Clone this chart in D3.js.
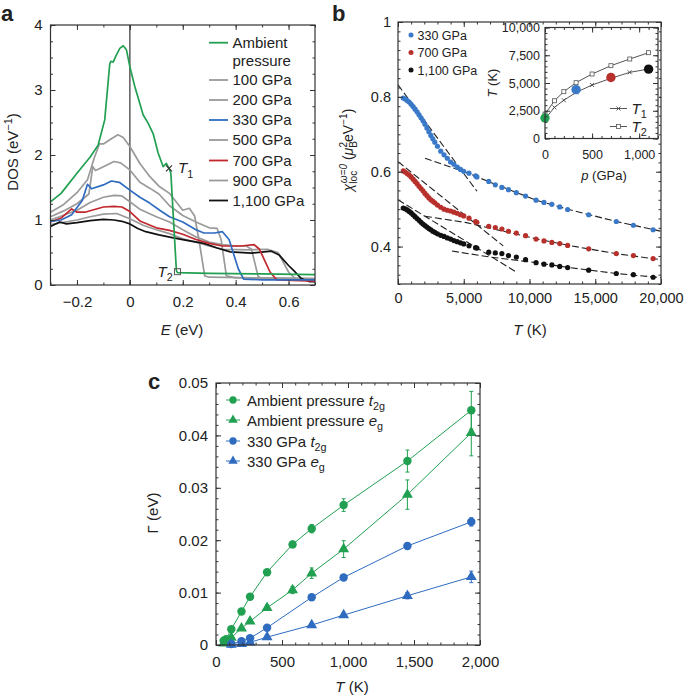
<!DOCTYPE html>
<html>
<head>
<meta charset="utf-8">
<script src="https://cdn.jsdelivr.net/npm/d3@7"></script>
<style>
  body { margin: 0; background: #fff; }
  text { font-family: "Liberation Sans", Arial, Helvetica, sans-serif; fill: #222; }
</style>
</head>
<body>
<svg id="fig" width="685" height="695"></svg>
<script>
// ---------- panel a : DOS curves, [E (eV), DOS] ----------
var dosAmbient = [[-0.3,1.28],[-0.26,1.41],[-0.2,1.72],[-0.15,1.97],[-0.12,2.15],[-0.095,2.54],[-0.076,3.40],[-0.072,3.44],[-0.063,3.43],[-0.053,3.52],[-0.038,3.64],[-0.025,3.68],[-0.013,3.62],[0,3.36],[0.019,3.05],[0.038,2.79],[0.05,2.62],[0.069,2.49],[0.088,2.33],[0.107,2.03],[0.126,1.82],[0.138,1.87],[0.15,1.78],[0.155,1.72],[0.176,0.22],[0.18,0.19],[0.3,0.18],[0.5,0.17],[0.7,0.16]];
var dos100 = [[-0.3,1.12],[-0.25,1.24],[-0.2,1.42],[-0.16,1.62],[-0.135,1.95],[-0.115,2.17],[-0.1,2.17],[-0.07,2.25],[-0.045,2.31],[-0.025,2.27],[0,2.13],[0.038,1.87],[0.075,1.67],[0.11,1.52],[0.15,1.41],[0.2,1.15],[0.225,1.18],[0.245,1.06],[0.265,0.6],[0.283,0.14],[0.3,0.12],[0.5,0.11],[0.7,0.10]];
var dos200 = [[-0.3,1.05],[-0.25,1.14],[-0.2,1.25],[-0.155,1.40],[-0.14,1.82],[-0.13,1.76],[-0.1,1.82],[-0.06,1.90],[-0.035,1.88],[0,1.77],[0.038,1.58],[0.075,1.49],[0.11,1.40],[0.15,1.22],[0.2,1.07],[0.25,0.97],[0.3,0.88],[0.33,0.87],[0.345,0.7],[0.365,0.14],[0.4,0.11],[0.7,0.10]];
var dos330 = [[-0.3,0.98],[-0.26,1.0],[-0.22,1.08],[-0.18,1.3],[-0.16,1.55],[-0.145,1.48],[-0.1,1.54],[-0.07,1.60],[-0.04,1.58],[0,1.46],[0.038,1.35],[0.075,1.26],[0.113,1.15],[0.15,1.05],[0.2,0.97],[0.25,0.85],[0.28,0.80],[0.32,0.80],[0.35,0.82],[0.375,0.7],[0.41,0.25],[0.43,0.09],[0.5,0.08],[0.7,0.08]];
var dos500 = [[-0.3,1.0],[-0.2,1.15],[-0.15,1.27],[-0.1,1.35],[-0.06,1.38],[-0.03,1.37],[0,1.28],[0.04,1.16],[0.1,1.05],[0.15,0.97],[0.2,0.85],[0.25,0.74],[0.3,0.66],[0.35,0.62],[0.4,0.6],[0.44,0.6],[0.46,0.55],[0.485,0.13],[0.5,0.1],[0.7,0.09]];
var dos700 = [[-0.3,0.97],[-0.26,1.03],[-0.22,1.17],[-0.2,1.12],[-0.17,1.12],[-0.1,1.2],[-0.06,1.21],[-0.03,1.2],[0,1.13],[0.04,0.98],[0.1,0.88],[0.15,0.84],[0.2,0.78],[0.25,0.70],[0.3,0.64],[0.35,0.6],[0.42,0.6],[0.47,0.62],[0.49,0.55],[0.53,0.2],[0.555,0.08],[0.7,0.06]];
var dos900 = [[-0.3,0.93],[-0.2,1.0],[-0.15,1.05],[-0.1,1.09],[-0.05,1.1],[0,1.02],[0.05,0.92],[0.1,0.85],[0.15,0.79],[0.2,0.71],[0.25,0.66],[0.3,0.6],[0.35,0.55],[0.45,0.54],[0.52,0.55],[0.56,0.5],[0.6,0.2],[0.63,0.08],[0.7,0.07]];
var dos1100 = [[-0.3,0.9],[-0.265,0.97],[-0.24,0.94],[-0.2,0.96],[-0.15,0.99],[-0.1,1.01],[-0.06,1.0],[-0.03,0.98],[0,0.94],[0.03,0.87],[0.06,0.82],[0.11,0.77],[0.16,0.73],[0.21,0.69],[0.28,0.64],[0.33,0.57],[0.38,0.51],[0.46,0.49],[0.535,0.52],[0.565,0.46],[0.6,0.3],[0.62,0.22],[0.648,0.10],[0.68,0.05],[0.7,0.05]];
var markT1 = [0.148, 1.795];
var markT2 = [0.18, 0.205];
var legendA = ["Ambient", "100 GPa", "200 GPa", "330 GPa", "500 GPa", "700 GPa", "900 GPa", "1,100 GPa"];
var ticksAx = [-0.2, 0, 0.2, 0.4, 0.6];
var ticksAy = [0, 1, 2, 3, 4];

// ---------- panel b : chi_loc(T), [T (K), chi] ----------
var chi330 = [[400,0.797],[550,0.794],[700,0.79],[850,0.786],[1000,0.78],[1150,0.774],[1300,0.767],[1450,0.760],[1600,0.752],[1750,0.744],[1900,0.736],[2050,0.727],[2200,0.717],[2350,0.707],[2500,0.697],[2650,0.688],[2800,0.679],[3000,0.668],[3250,0.655],[3500,0.645],[3750,0.636],[4000,0.626],[4250,0.620],[4500,0.612],[4750,0.606],[5000,0.601],[5400,0.596],[5900,0.589],[6000,0.586],[6900,0.574],[7400,0.565],[7900,0.558],[8400,0.552],[9000,0.544],[9700,0.535],[10500,0.524],[11100,0.518],[11700,0.513],[12300,0.506],[12900,0.499],[14500,0.485],[16600,0.467],[17900,0.457],[19400,0.445]];
var chi700 = [[400,0.602],[550,0.599],[700,0.595],[850,0.591],[1000,0.586],[1150,0.580],[1300,0.574],[1450,0.568],[1600,0.561],[1750,0.555],[1900,0.549],[2050,0.542],[2200,0.536],[2350,0.530],[2500,0.525],[2650,0.521],[2800,0.517],[3000,0.511],[3250,0.505],[3500,0.500],[3750,0.497],[4000,0.495],[4250,0.492],[4500,0.489],[4750,0.485],[5000,0.482],[5400,0.476],[5900,0.467],[6000,0.465],[6900,0.454],[7400,0.451],[7900,0.447],[8400,0.441],[9000,0.436],[9700,0.429],[10500,0.420],[11100,0.415],[11700,0.411],[12300,0.408],[12900,0.403],[14500,0.394],[16600,0.381],[17900,0.376],[19400,0.368]];
var chi1100 = [[400,0.503],[550,0.501],[700,0.498],[850,0.494],[1000,0.490],[1150,0.485],[1300,0.480],[1450,0.475],[1600,0.470],[1750,0.465],[1900,0.460],[2050,0.456],[2200,0.452],[2350,0.448],[2500,0.445],[2650,0.441],[2800,0.438],[3000,0.434],[3250,0.430],[3500,0.427],[3750,0.423],[4000,0.420],[4250,0.416],[4500,0.413],[4750,0.410],[5000,0.407],[5400,0.402],[5900,0.397],[6000,0.396],[6900,0.385],[7400,0.383],[7900,0.381],[8400,0.376],[9000,0.372],[9700,0.365],[10500,0.357],[11100,0.353],[11700,0.351],[12300,0.347],[12900,0.344],[14500,0.337],[16600,0.328],[17900,0.325],[19400,0.318]];
var fitLow330 = [[0,0.832],[6000,0.548]];
var fitHigh330 = [[2050,0.636],[5200,0.598],[7000,0.572],[10500,0.524],[13000,0.499],[16600,0.467],[20000,0.441]];
var fitLow700 = [[0,0.627],[8000,0.402]];
var fitHigh700 = [[2050,0.481],[5200,0.464],[7000,0.449],[10500,0.421],[13000,0.403],[16600,0.381],[20000,0.365]];
var fitLow1100 = [[0,0.525],[9000,0.332]];
var fitHigh1100 = [[4100,0.388],[7000,0.372],[10500,0.357],[13000,0.344],[16600,0.328],[20000,0.317]];
var legendB = ["330 GPa", "700 GPa", "1,100 GPa"];
var ticksBx = [0, 5000, 10000, 15000, 20000];
var ticksBy = [0.4, 0.6, 0.8, 1];

// inset: crossover temperatures vs pressure
var pInset = [0, 100, 200, 330, 500, 700, 900, 1100];
var tempT1 = [1750, 2800, 3450, 4150, 4820, 5420, 5960, 6260];
var tempT2 = [2200, 3400, 4220, 5030, 5810, 6560, 7160, 7730];
var pBig = [0, 330, 700, 1100];
var tBig = [1850, 4400, 5500, 6250];
var ticksIx = [0, 500, 1000];
var ticksIy = [0, 2500, 5000, 7500, 10000];

// ---------- panel c : scattering rate Gamma(T) ----------
var tAmb = [58, 77, 116, 193, 258, 387, 580, 725, 967, 1450, 1934];
var gAmbT2g = [0.0008,0.0011,0.0030,0.0064,0.0092,0.0139,0.0192,0.0222,0.0267,0.0351,0.0448];
var eAmbT2g = [0.0003,0.0003,0.0004,0.0004,0.0004,0.0005,0.0006,0.0008,0.0012,0.0021,0.0036];
var gAmbEg = [0.0003,0.0006,0.0014,0.0032,0.0045,0.0071,0.0105,0.0137,0.0183,0.0287,0.0405];
var eAmbEg = [0.0002,0.0002,0.0003,0.0003,0.0004,0.0005,0.0007,0.0010,0.0016,0.0028,0.0044];
var t330 = [116, 193, 258, 387, 725, 967, 1450, 1934];
var g330T2g = [0.0002,0.0007,0.0013,0.0033,0.0091,0.0129,0.0189,0.0235];
var e330T2g = [0.0002,0.0002,0.0003,0.0003,0.0005,0.0004,0.0006,0.0008];
var g330Eg = [0.0001,0.0002,0.0005,0.0015,0.0038,0.0057,0.0094,0.0130];
var e330Eg = [0.0001,0.0001,0.0002,0.0003,0.0003,0.0003,0.0006,0.0011];
var ticksCx = [0, 500, 1000, 1500, 2000];
var ticksCy = [0, 0.01, 0.02, 0.03, 0.04, 0.05];

var GREEN = "#22a052", BLUE = "#2f6cc0", RED = "#c1272d", GREY = "#9a9a9a", BLACK = "#111";
var svg = d3.select("#fig");

// frame with inward ticks on all four sides
function axes(g, x, y, o) {
  var w = x.range()[1], h = y.range()[0];
  function add(axis, tr, vals, size, fmt, pad) {
    var a = g.append("g").attr("transform", tr)
      .call(axis.tickValues(vals).tickSize(-size).tickSizeOuter(0)
        .tickPadding(pad || 0)
        .tickFormat(fmt || function() { return ""; }));
    a.select(".domain").remove();
    a.attr("font-family", null).attr("font-size", null);
    a.selectAll("line").attr("stroke", "#333").attr("stroke-width", 1);
    a.selectAll("text").attr("font-size", o.fs);
  }
  add(d3.axisBottom(x), "translate(0," + h + ")", o.xMinor, 2.5);
  add(d3.axisBottom(x), "translate(0," + h + ")", o.xMajor, 5, o.xFmt, o.padX);
  add(d3.axisTop(x), null, o.xMinor, 2.5);
  add(d3.axisTop(x), null, o.xMajor, 5);
  add(d3.axisLeft(y), null, o.yMinor, 2.5);
  add(d3.axisLeft(y), null, o.yMajor, 5, o.yFmt, o.padY);
  add(d3.axisRight(y), "translate(" + w + ",0)", o.yMinor, 2.5);
  add(d3.axisRight(y), "translate(" + w + ",0)", o.yMajor, 5);
  g.append("rect").attr("width", w).attr("height", h)
    .attr("fill", "none").attr("stroke", "#333").attr("stroke-width", 1.2);
}

// text with italic / sub / sup parts
function rich(t, parts, fs) {
  var shift = 0;
  parts.forEach(function(p) {
    var target = p.sub ? 0.3 * fs : (p.sup ? -0.4 * fs : 0);
    var ts = t.append("tspan").text(p.t).attr("dy", target - shift);
    if (p.dx) ts.attr("dx", p.dx);
    if (p.sub || p.sup) ts.attr("font-size", fs * 0.72);
    if (p.it) ts.attr("font-style", "italic");
    shift = target;
  });
  return t;
}

function range(a, b, s) { return d3.range(a, b + s / 2, s); }

// ======================= panel a =======================
var ga = svg.append("g").attr("transform", "translate(50.5,25)");
var xa = d3.scaleLinear().domain([-0.3, 0.7]).range([0, 264.5]);
var ya = d3.scaleLinear().domain([0, 4]).range([260, 0]);

ga.append("line").attr("x1", xa(0)).attr("x2", xa(0)).attr("y1", 0).attr("y2", 260)
  .attr("stroke", "#666").attr("stroke-width", 1.6);

var lineA = d3.line().x(function(d) { return xa(d[0]); }).y(function(d) { return ya(d[1]); });
var seriesA = [
  [dos100, GREY], [dos200, GREY], [dos500, GREY], [dos900, GREY],
  [dos1100, BLACK], [dos700, RED], [dos330, BLUE], [dosAmbient, GREEN]
];
seriesA.forEach(function(s) {
  ga.append("path").datum(s[0]).attr("d", lineA).attr("fill", "none")
    .attr("stroke", s[1]).attr("stroke-width", 1.7).attr("stroke-linejoin", "round");
});

// T1 / T2 markers
var m1x = xa(markT1[0]), m1y = ya(markT1[1]);
ga.append("path").attr("d", "M" + (m1x - 3) + "," + (m1y - 3) + "L" + (m1x + 3) + "," + (m1y + 3) +
  "M" + (m1x - 3) + "," + (m1y + 3) + "L" + (m1x + 3) + "," + (m1y - 3))
  .attr("stroke", "#333").attr("stroke-width", 1.2);
rich(ga.append("text").attr("x", m1x + 9).attr("y", m1y + 5).attr("font-size", 15),
  [{ t: "T", it: 1 }, { t: "1", sub: 1 }], 15);
ga.append("rect").attr("x", xa(markT2[0]) - 3).attr("y", ya(markT2[1]) - 3)
  .attr("width", 6).attr("height", 6).attr("fill", "none").attr("stroke", "#555");
rich(ga.append("text").attr("x", xa(markT2[0]) - 20).attr("y", ya(markT2[1]) + 5).attr("font-size", 15),
  [{ t: "T", it: 1 }, { t: "2", sub: 1 }], 15);

axes(ga, xa, ya, {
  xMajor: ticksAx, xMinor: range(-0.3, 0.7, 0.1), yMajor: ticksAy, yMinor: range(0, 4, 0.25),
  xFmt: d3.format(""), yFmt: d3.format(""), fs: 15, padX: 11, padY: 8
});

// legend a
var legColors = [GREEN, GREY, GREY, BLUE, GREY, RED, GREY, BLACK];
var legRows = [42.7, 80, 100, 120, 140, 160.5, 180.5, 200.5];
legendA.forEach(function(name, i) {
  var yy = legRows[i] - 25;
  ga.append("line").attr("x1", 158.5).attr("x2", 177.5).attr("y1", yy).attr("y2", yy)
    .attr("stroke", legColors[i]).attr("stroke-width", 1.8);
  ga.append("text").attr("x", 182).attr("y", yy).attr("dy", "0.36em").attr("font-size", 15).text(name);
});
ga.append("text").attr("x", 182).attr("y", 61 - 25).attr("dy", "0.36em").attr("font-size", 15).text("pressure");

// titles a
rich(svg.append("text").attr("transform", "translate(18,152) rotate(-90)")
  .attr("text-anchor", "middle").attr("font-size", 15),
  [{ t: "DOS (eV" }, { t: "\u22121", sup: 1 }, { t: ")" }], 15);
rich(svg.append("text").attr("x", 182).attr("y", 335).attr("text-anchor", "middle").attr("font-size", 15),
  [{ t: "E", it: 1 }, { t: " (eV)" }], 15);
svg.append("text").attr("x", 1).attr("y", 21).attr("font-size", 22).attr("font-weight", "bold").text("a");

// ======================= panel b =======================
var gb = svg.append("g").attr("transform", "translate(398,22)");
var xb = d3.scaleLinear().domain([0, 20000]).range([0, 263]);
var yb = d3.scaleLinear().domain([0.3, 1]).range([262, 0]);
var lineB = d3.line().x(function(d) { return xb(d[0]); }).y(function(d) { return yb(d[1]); });

[fitLow330, fitHigh330, fitLow700, fitHigh700, fitLow1100, fitHigh1100].forEach(function(f) {
  gb.append("path").datum(f).attr("d", lineB).attr("fill", "none")
    .attr("stroke", "#222").attr("stroke-width", 1.1).attr("stroke-dasharray", "7,3");
});
var chiSeries = [[chi330, "#3a78c8"], [chi700, "#b8302c"], [chi1100, "#111"]];
chiSeries.forEach(function(s) {
  gb.append("g").selectAll("circle").data(s[0]).join("circle")
    .attr("cx", function(d) { return xb(d[0]); }).attr("cy", function(d) { return yb(d[1]); })
    .attr("r", 2.6).attr("fill", s[1]);
});

axes(gb, xb, yb, {
  xMajor: ticksBx, xMinor: range(0, 20000, 1000), yMajor: ticksBy, yMinor: range(0.3, 1, 0.025),
  xFmt: d3.format(","), yFmt: function(d) { return String(d); }, fs: 14.5, padX: 9, padY: 7
});

legendB.forEach(function(name, i) {
  var yy = 13 + i * 17.5;
  gb.append("circle").attr("cx", 13).attr("cy", yy).attr("r", 2.5).attr("fill", chiSeries[i][1]);
  gb.append("text").attr("x", 19.5).attr("y", yy).attr("dy", "0.36em").attr("font-size", 12.5).text(name);
});

// inset
var gi = svg.append("g").attr("transform", "translate(545,27.5)");
var xi = d3.scaleLinear().domain([0, 1200]).range([0, 113]);
var yi = d3.scaleLinear().domain([0, 10000]).range([111, 0]);
gi.append("rect").attr("x", -1).attr("y", -1).attr("width", 115).attr("height", 113).attr("fill", "#fff");
var lineI = d3.line().x(function(d) { return xi(d[0]); }).y(function(d) { return yi(d[1]); });
var ptsT1 = pInset.map(function(p, i) { return [p, tempT1[i]]; });
var ptsT2 = pInset.map(function(p, i) { return [p, tempT2[i]]; });
[ptsT1, ptsT2].forEach(function(pts) {
  gi.append("path").datum(pts).attr("d", lineI).attr("fill", "none").attr("stroke", "#555").attr("stroke-width", 1);
});
gi.append("g").selectAll("path").data(ptsT1).join("path")
  .attr("d", function(d) {
    var cx = xi(d[0]), cy = yi(d[1]);
    return "M" + (cx - 2) + "," + (cy - 2) + "L" + (cx + 2) + "," + (cy + 2) + "M" + (cx - 2) + "," + (cy + 2) + "L" + (cx + 2) + "," + (cy - 2);
  }).attr("stroke", "#444").attr("stroke-width", 0.9);
gi.append("g").selectAll("rect").data(ptsT2).join("rect")
  .attr("x", function(d) { return xi(d[0]) - 2; }).attr("y", function(d) { return yi(d[1]) - 2; })
  .attr("width", 4).attr("height", 4).attr("fill", "#fff").attr("stroke", "#555").attr("stroke-width", 0.8);
var bigColors = [GREEN, "#3a78c8", "#b8302c", "#111"];
gi.append("g").selectAll("circle").data(pBig).join("circle")
  .attr("cx", function(d) { return xi(d); }).attr("cy", function(d, i) { return yi(tBig[i]); })
  .attr("r", 4.7).attr("fill", function(d, i) { return bigColors[i]; });

axes(gi, xi, yi, {
  xMajor: ticksIx, xMinor: range(0, 1200, 100), yMajor: ticksIy, yMinor: range(0, 10000, 500),
  xFmt: d3.format(","), yFmt: d3.format(","), fs: 12.5, padX: 12, padY: 5
});
// inset legend
[["T1", 81], ["T2", 99]].forEach(function(r, i) {
  var yy = r[1];
  gi.append("line").attr("x1", 65).attr("x2", 82).attr("y1", yy).attr("y2", yy).attr("stroke", "#555");
  if (i === 0) {
    gi.append("path").attr("d", "M71.5," + (yy - 2) + "L75.5," + (yy + 2) + "M71.5," + (yy + 2) + "L75.5," + (yy - 2))
      .attr("stroke", "#444").attr("stroke-width", 0.9);
  } else {
    gi.append("rect").attr("x", 71.5).attr("y", yy - 2).attr("width", 4).attr("height", 4)
      .attr("fill", "#fff").attr("stroke", "#555").attr("stroke-width", 0.8);
  }
  rich(gi.append("text").attr("x", 86.5).attr("y", yy + 5).attr("font-size", 15),
    [{ t: "T", it: 1 }, { t: r[0].slice(1), sub: 1 }], 15);
});
rich(svg.append("text").attr("transform", "translate(497,83) rotate(-90)")
  .attr("text-anchor", "middle").attr("font-size", 13),
  [{ t: "T", it: 1 }, { t: " (K)" }], 13);
rich(svg.append("text").attr("x", 604).attr("y", 180).attr("text-anchor", "middle").attr("font-size", 13),
  [{ t: "p", it: 1 }, { t: " (GPa)" }], 13);

// titles b
rich(svg.append("text").attr("transform", "translate(353,150) rotate(-90)")
  .attr("text-anchor", "middle").attr("font-size", 14),
  [{ t: "\u03c7", it: 1 }, { t: "loc", sub: 1 }, { t: "\u03c9=0", sup: 1, it: 1, dx: -12.5 },
   { t: " (" }, { t: "\u03bc", it: 1 }, { t: "B", sub: 1 }, { t: "2", sup: 1, dx: -6.5 },
   { t: "eV" }, { t: "\u22121", sup: 1 }, { t: ")" }], 14);
rich(svg.append("text").attr("x", 530).attr("y", 335).attr("text-anchor", "middle").attr("font-size", 15),
  [{ t: "T", it: 1 }, { t: " (K)" }], 15);
svg.append("text").attr("x", 332).attr("y", 21).attr("font-size", 22).attr("font-weight", "bold").text("b");

// ======================= panel c =======================
var gc = svg.append("g").attr("transform", "translate(216,383)");
var xc = d3.scaleLinear().domain([0, 2000]).range([0, 264]);
var yc = d3.scaleLinear().domain([0, 0.05]).range([262, 0]);
var lineC = d3.line().x(function(d) { return xc(d.t); }).y(function(d) { return yc(d.g); });

function pack(ts, gs, es) { return ts.map(function(t, i) { return { t: t, g: gs[i], e: es[i] }; }); }
var seriesC = [
  { data: pack(tAmb, gAmbT2g, eAmbT2g), color: GREEN, sym: d3.symbolCircle, size: 56 },
  { data: pack(tAmb, gAmbEg, eAmbEg), color: GREEN, sym: d3.symbolTriangle, size: 52 },
  { data: pack(t330, g330T2g, e330T2g), color: BLUE, sym: d3.symbolCircle, size: 56 },
  { data: pack(t330, g330Eg, e330Eg), color: BLUE, sym: d3.symbolTriangle, size: 52 }
];
seriesC.forEach(function(s) {
  gc.append("path").datum(s.data).attr("d", lineC).attr("fill", "none")
    .attr("stroke", s.color).attr("stroke-width", 1);
  var eb = gc.append("g").attr("stroke", s.color).attr("stroke-width", 1);
  s.data.forEach(function(d) {
    var cx = xc(d.t), y1 = yc(d.g - d.e), y2 = yc(d.g + d.e);
    eb.append("line").attr("x1", cx).attr("x2", cx).attr("y1", y1).attr("y2", y2);
    eb.append("line").attr("x1", cx - 2).attr("x2", cx + 2).attr("y1", y1).attr("y2", y1);
    eb.append("line").attr("x1", cx - 2).attr("x2", cx + 2).attr("y1", y2).attr("y2", y2);
  });
  gc.append("g").selectAll("path").data(s.data).join("path")
    .attr("d", d3.symbol().type(s.sym).size(s.size))
    .attr("transform", function(d) { return "translate(" + xc(d.t) + "," + yc(d.g) + ")"; })
    .attr("fill", s.color);
});

axes(gc, xc, yc, {
  xMajor: ticksCx, xMinor: range(0, 2000, 100), yMajor: ticksCy, yMinor: range(0, 0.05, 0.002),
  xFmt: d3.format(","), yFmt: function(d) { return String(d); }, fs: 15, padX: 11, padY: 8
});

var legendC = [
  [{ t: "Ambient pressure " }, { t: "t", it: 1 }, { t: "2g", sub: 1 }],
  [{ t: "Ambient pressure " }, { t: "e", it: 1 }, { t: "g", sub: 1 }],
  [{ t: "330 GPa " }, { t: "t", it: 1 }, { t: "2g", sub: 1 }],
  [{ t: "330 GPa " }, { t: "e", it: 1 }, { t: "g", sub: 1 }]
];
var legRowsC = [17, 37, 58, 78];
legendC.forEach(function(parts, i) {
  var yy = legRowsC[i], s = seriesC[i];
  gc.append("line").attr("x1", 10).attr("x2", 24).attr("y1", yy).attr("y2", yy).attr("stroke", s.color);
  gc.append("path").attr("d", d3.symbol().type(s.sym).size(s.size * 0.75)())
    .attr("transform", "translate(17," + yy + ")").attr("fill", s.color);
  rich(gc.append("text").attr("x", 31).attr("y", yy + 5.5).attr("font-size", 15), parts, 15);
});

svg.append("text").attr("transform", "translate(158,513) rotate(-90)")
  .attr("text-anchor", "middle").attr("font-size", 15).text("\u0393 (eV)");
rich(svg.append("text").attr("x", 352).attr("y", 692).attr("text-anchor", "middle").attr("font-size", 15),
  [{ t: "T", it: 1 }, { t: " (K)" }], 15);
svg.append("text").attr("x", 148).attr("y", 389).attr("font-size", 22).attr("font-weight", "bold").text("c");
</script>
</body>
</html>
